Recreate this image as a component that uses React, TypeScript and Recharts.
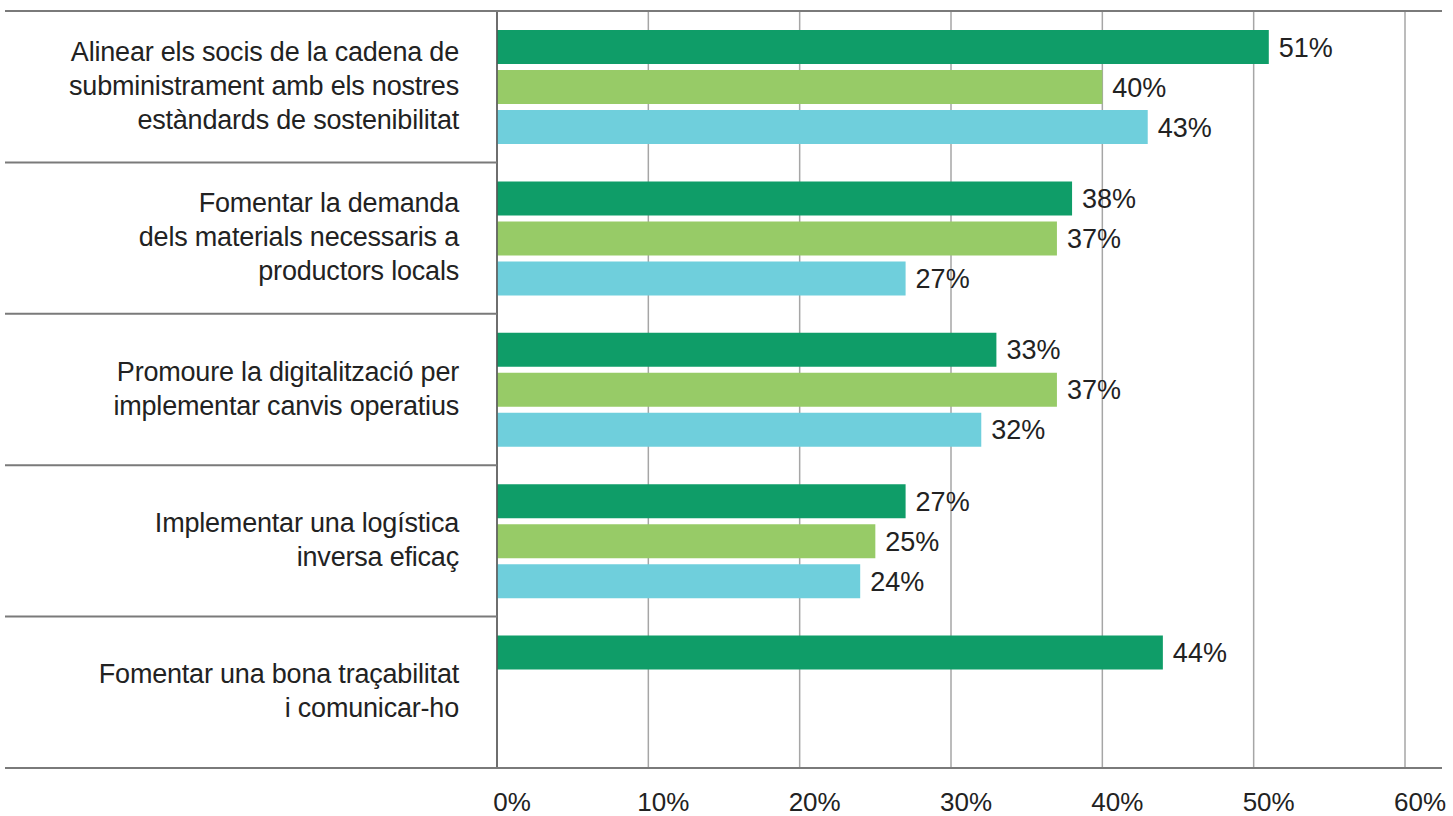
import React from 'react';
import {
  BarChart,
  Bar,
  XAxis,
  YAxis,
  CartesianGrid,
  LabelList,
} from 'recharts';

// Category labels, one "\n" per line break as in the source
const categories = [
  'Alinear els socis de la cadena de\nsubministrament amb els nostres\nestàndards de sostenibilitat',
  'Fomentar la demanda\ndels materials necessaris a\nproductors locals',
  'Promoure la digitalització per\nimplementar canvis operatius',
  'Implementar una logística\ninversa eficaç',
  'Fomentar una bona traçabilitat\ni comunicar-ho',
];

const seriesA = [51, 38, 33, 27, 44];
const seriesB = [40, 37, 37, 25, null];
const seriesC = [43, 27, 32, 24, null];

const xTicks = [0, 10, 20, 30, 40, 50, 60];

const data = categories.map((name, i) => ({
  name,
  a: seriesA[i],
  b: seriesB[i],
  c: seriesC[i],
}));

const W = 1453;
const H = 816;
const TOP = 11;
const BOTTOM_AXIS = 48;
const LEFT = 497;
const RIGHT = 48;
const LINE_LEFT = 5;
const LINE_RIGHT = 1442;
const BAND = (H - TOP - BOTTOM_AXIS) / categories.length;

const FONT = '"Liberation Sans", Arial, sans-serif';
const TEXT = '#222';
const SEP = '#7a7a7a';

const CategoryTick = (props: any) => {
  const { y, payload, index } = props;
  const lines = String(payload.value).split('\n');
  const lh = 34;
  const top = y - BAND / 2;
  return (
    <g>
      <line
        x1={LINE_LEFT}
        x2={index === 0 ? LINE_RIGHT : LEFT}
        y1={top}
        y2={top}
        stroke={SEP}
        strokeWidth={2}
      />
      {index === categories.length - 1 && (
        <line
          x1={LINE_LEFT}
          x2={LINE_RIGHT}
          y1={y + BAND / 2}
          y2={y + BAND / 2}
          stroke={SEP}
          strokeWidth={2}
        />
      )}
      <text
        x={459}
        y={y}
        textAnchor="end"
        fontFamily={FONT}
        fontSize={27}
        letterSpacing={-0.2}
        fill={TEXT}
      >
        {lines.map((l, i) => (
          <tspan key={i} x={459} y={y + (i - (lines.length - 1) / 2) * lh + 8}>
            {l}
          </tspan>
        ))}
      </text>
    </g>
  );
};

const PercentTick = (props: any) => {
  const { x, payload } = props;
  return (
    <text
      x={x + 15}
      y={811}
      textAnchor="middle"
      fontFamily={FONT}
      fontSize={26}
      fill={TEXT}
    >
      {`${payload.value}%`}
    </text>
  );
};

const fmt = (v: any) => (v == null ? '' : `${v}%`);

export default function App() {
  return (
    <div style={{ position: 'absolute', left: 0, top: 0, background: '#fff' }}>
      <BarChart
        width={W}
        height={H}
        data={data}
        layout="vertical"
        barSize={34}
        barGap={6}
        margin={{ top: TOP, right: RIGHT, left: 0, bottom: 0 }}
      >
        <CartesianGrid horizontal={false} stroke="#a6a6a6" strokeWidth={1.5} />
        <XAxis
          type="number"
          domain={[0, 60]}
          ticks={xTicks}
          height={BOTTOM_AXIS}
          axisLine={false}
          tickLine={false}
          tick={<PercentTick />}
        />
        <YAxis
          type="category"
          dataKey="name"
          width={LEFT}
          tickLine={false}
          axisLine={{ stroke: '#555', strokeWidth: 1.5 }}
          tick={<CategoryTick />}
          interval={0}
        />
        <Bar dataKey="a" fill="#0f9d68" isAnimationActive={false}>
          <LabelList dataKey="a" position="right" offset={10} formatter={fmt} fontFamily={FONT} fontSize={27} fill={TEXT} />
        </Bar>
        <Bar dataKey="b" fill="#97cb67" isAnimationActive={false}>
          <LabelList dataKey="b" position="right" offset={10} formatter={fmt} fontFamily={FONT} fontSize={27} fill={TEXT} />
        </Bar>
        <Bar dataKey="c" fill="#6fcfdc" isAnimationActive={false}>
          <LabelList dataKey="c" position="right" offset={10} formatter={fmt} fontFamily={FONT} fontSize={27} fill={TEXT} />
        </Bar>
      </BarChart>
    </div>
  );
}
